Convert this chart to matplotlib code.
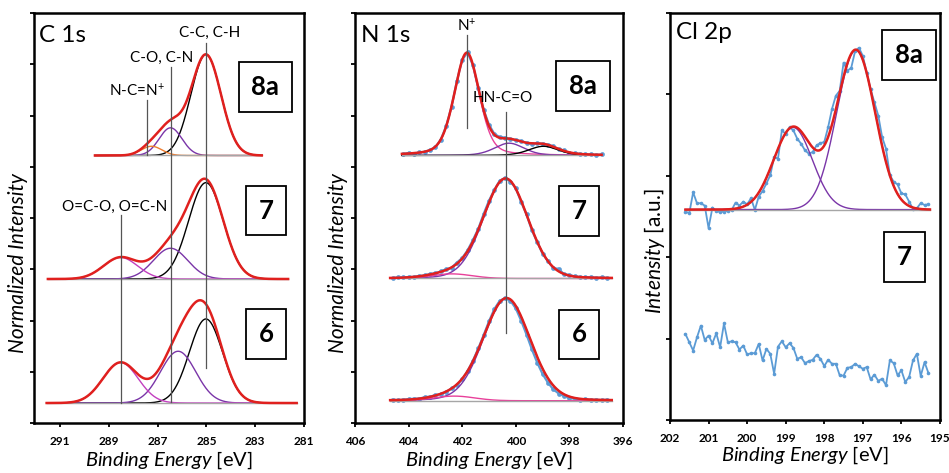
import matplotlib

matplotlib.use("Agg")
import matplotlib.pyplot as plt
import numpy as np

plt.rcParams["font.family"] = ["Lato", "DejaVu Sans"]
plt.rcParams["mathtext.fontset"] = "custom"
plt.rcParams["mathtext.rm"] = "Lato"
plt.rcParams["mathtext.it"] = "Lato:italic"
plt.rcParams["mathtext.bf"] = "Lato:bold"

RED = "#e0201e"
BLUE = "#5b9bd5"
PURPLE = "#7a35a8"
MAGENTA = "#c23fbf"
PINK = "#e8409a"
ORANGE = "#ed7d31"
GRAY = "#a6a6a6"

# --- C 1s: peak fits, (centre eV, height, FWHM) ---
C1S_SAMPLES = ["8a", "7", "6"]
C1S_BASE = [5.22, 2.81, 0.39]
C1S_SPAN = [(289.57, 282.73), (291.5, 281.65), (291.55, 281.3)]
C1S_CC = [(285.02, 1.97, 1.45), (285.02, 1.88, 1.67), (285.02, 1.64, 1.6)]
C1S_CO = [(286.47, 0.54, 1.1), (286.47, 0.60, 1.65), (286.16, 1.01, 1.7)]
C1S_OCO = [None, (288.52, 0.42, 1.65), (288.52, 0.79, 1.7)]
C1S_NCN = [(287.25, 0.18, 1.0), None, None]

# --- N 1s: (centre eV, height, FWHM, lorentz fraction) ---
N1S_BASE = [5.22, 2.82, 0.435]
N1S_SPAN = [(404.25, 396.8), (404.69, 396.42), (404.69, 396.42)]
N1S_8A_NPLUS = (401.83, 1.99, 1.1, 0.3)
N1S_8A_AMIDE = (400.25, 0.24, 1.3, 0.3)
N1S_8A_LOW = (398.97, 0.18, 1.3, 0.3)
N1S_7_MAIN = (400.38, 1.95, 1.95, 0.1)
N1S_7_HIGH = (402.4, 0.09, 1.8, 0.0)
N1S_6_MAIN = (400.34, 2.0, 2.05, 0.1)
N1S_6_HIGH = (402.3, 0.09, 1.8, 0.0)

# measured points (height above each baseline), 0.2 eV steps
N1S_8A_START = 404.2
N1S_8A_Y = [0.03, 0.05, 0.03, 0.06, 0.07, 0.11, 0.16, 0.31, 0.57, 0.95,
            1.45, 1.87, 2.01, 1.76, 1.31, 0.89, 0.60, 0.42, 0.36, 0.35,
            0.32, 0.30, 0.28, 0.25, 0.22, 0.24, 0.23, 0.21, 0.18, 0.12,
            0.10, 0.05, 0.04, 0.03, 0.02, 0.02, 0.01, 0.02]
N1S_7_START = 404.6
N1S_7_Y = [0.01, 0.02, 0.02, 0.03, 0.03, 0.05, 0.06, 0.09, 0.10, 0.14,
           0.18, 0.21, 0.31, 0.40, 0.55, 0.75, 0.97, 1.26, 1.52, 1.73,
           1.91, 1.96, 1.89, 1.76, 1.49, 1.25, 0.94, 0.71, 0.48, 0.34,
           0.20, 0.19, 0.08, 0.07, 0.04, 0.03, 0.02, 0.03, 0.01, 0.02, 0.01]
N1S_6_START = 404.6
N1S_6_Y = [0.02, 0.01, 0.02, 0.03, 0.04, 0.04, 0.07, 0.08, 0.11, 0.13,
           0.17, 0.24, 0.30, 0.42, 0.58, 0.78, 1.02, 1.28, 1.55, 1.79,
           1.95, 2.00, 1.95, 1.80, 1.56, 1.29, 1.00, 0.74, 0.52, 0.35,
           0.22, 0.14, 0.09, 0.05, 0.04, 0.02, 0.03, 0.01, 0.02, 0.01, 0.02]

# --- Cl 2p ---
CL_BASE = 2.585
CL_SPAN = (201.6, 195.26)
CL_P32 = (197.18, 1.96, 1.18)
CL_P12 = (198.81, 1.01, 1.18)
CL_START = 201.6  # 0.1 eV steps
CL_8A_Y = [2.561, 2.541, 2.797, 2.663, 2.663, 2.634, 2.358, 2.610, 2.569, 2.553,
           2.561, 2.569, 2.581, 2.671, 2.634, 2.683, 2.650, 2.724, 2.581, 2.744,
           2.813, 2.906, 3.008, 3.232, 3.211, 3.557, 3.516, 3.598, 3.557, 3.455,
           3.394, 3.313, 3.272, 3.293, 3.374, 3.402, 3.415, 3.598, 3.821, 3.984,
           4.045, 4.390, 4.289, 4.329, 4.533, 4.573, 4.472, 4.268, 4.065, 3.902,
           3.740, 3.476, 3.333, 3.008, 2.927, 2.894, 2.784, 2.772, 2.683, 2.594,
           2.602, 2.663, 2.642, 2.650]
CL_7_Y = [1.057, 0.955, 0.854, 1.016, 1.159, 0.984, 1.037, 0.943, 1.065, 0.894,
          1.187, 0.955, 0.967, 0.955, 0.866, 0.915, 0.805, 0.821, 0.821, 0.935,
          0.732, 0.874, 0.813, 0.569, 0.902, 0.967, 0.894, 0.943, 0.886, 0.752,
          0.772, 0.699, 0.724, 0.740, 0.801, 0.752, 0.663, 0.740, 0.691, 0.691,
          0.549, 0.545, 0.642, 0.650, 0.691, 0.659, 0.630, 0.650, 0.500, 0.557,
          0.480, 0.508, 0.427, 0.732, 0.699, 0.549, 0.610, 0.467, 0.528, 0.732,
          0.813, 0.541, 0.711, 0.577]


def peak(x, p):
    """Gauss/Lorentz mix, p = (centre, height, fwhm[, lorentz fraction])."""
    c, h, w = p[:3]
    m = p[3] if len(p) > 3 else 0.0
    u = (x - c) / w
    return h * (m / (1 + 4 * u**2) + (1 - m) * np.exp(-4 * np.log(2) * u**2))


def grid(span):
    return np.linspace(span[0], span[1], 400)


def energies(start, n, step):
    return np.round(start - step * np.arange(n), 2)


def style_axes(ax, xlim, xticks, ylim):
    ax.set_xlim(*xlim)
    ax.set_ylim(*ylim)
    ax.set_xticks(xticks)
    ax.set_yticks(np.arange(ylim[0], ylim[1] + 1))
    ax.set_yticklabels([])
    ax.tick_params(direction="out", length=3, width=1.3, labelsize=8.5, pad=6)
    for lbl in ax.get_xticklabels():
        lbl.set_fontweight("bold")
    for s in ax.spines.values():
        s.set_linewidth(1.8)


def box_label(ax, x, y, s):
    ax.text(x, y, s, transform=ax.transAxes, ha="center", va="center",
            fontsize=18.5, fontweight="bold",
            bbox=dict(boxstyle="square,pad=0.5", fc="white", ec="black", lw=1.3))


fig = plt.figure(figsize=(9.49, 4.73), dpi=100)
ax1 = fig.add_axes([0.0358, 0.1057, 0.2845, 0.8668])
ax2 = fig.add_axes([0.3741, 0.1057, 0.2824, 0.8668])
ax3 = fig.add_axes([0.7060, 0.1120, 0.2845, 0.8605])

# ---------------- C 1s ----------------
for i in range(3):
    x = grid(C1S_SPAN[i])
    b = C1S_BASE[i]
    comps = [(C1S_CC[i], "black"), (C1S_CO[i], PURPLE),
             (C1S_OCO[i], MAGENTA), (C1S_NCN[i], ORANGE)]
    total = np.zeros_like(x)
    for p, col in comps:
        if p is None:
            continue
        y = peak(x, p)
        total += y
        ax1.plot(x, b + y, color=col, lw=1)
    ax1.plot(x, np.full_like(x, b), color=GRAY, lw=1)
    ax1.plot(x, b + total, color=RED, lw=1.8)

for xv, y0, y1 in [(287.44, 5.22, 6.30), (286.46, 0.41, 6.95),
                   (285.02, 1.07, 7.41), (288.50, 0.39, 4.06)]:
    ax1.plot([xv, xv], [y0, y1], color="#555555", lw=0.9)
ax1.text(284.86, 7.61, "C-C, C-H", ha="center", va="center", fontsize=11)
ax1.text(286.82, 7.12, "C-O, C-N", ha="center", va="center", fontsize=11)
ax1.text(287.85, 6.48, "N-C=N$^{+}$", ha="center", va="center", fontsize=11)
ax1.text(288.75, 4.21, "O=C-O, O=C-N", ha="center", va="center", fontsize=11)
ax1.text(0.02, 0.944, "C 1s", transform=ax1.transAxes, ha="left", va="center",
         fontsize=17.5)
box_label(ax1, 0.857, 0.820, "8a")
box_label(ax1, 0.859, 0.518, "7")
box_label(ax1, 0.859, 0.217, "6")
style_axes(ax1, (292.07, 281), [291, 289, 287, 285, 283, 281], (0, 8))

# ---------------- N 1s ----------------
n1s_fits = [
    [(N1S_8A_NPLUS, PINK), (N1S_8A_AMIDE, PURPLE), (N1S_8A_LOW, "black")],
    [(N1S_7_MAIN, PURPLE), (N1S_7_HIGH, PINK)],
    [(N1S_6_MAIN, PURPLE), (N1S_6_HIGH, PINK)],
]
n1s_points = [(N1S_8A_START, N1S_8A_Y), (N1S_7_START, N1S_7_Y),
              (N1S_6_START, N1S_6_Y)]
for i in range(3):
    x = grid(N1S_SPAN[i])
    b = N1S_BASE[i]
    start, ys = n1s_points[i]
    ax2.plot(energies(start, len(ys), 0.2), b + np.array(ys), "-o", color=BLUE,
             lw=1.6, ms=3.4, mew=0)
    total = np.zeros_like(x)
    for p, col in n1s_fits[i]:
        y = peak(x, p)
        total += y
        ax2.plot(x, b + y, color=col, lw=1)
    ax2.plot(x, np.full_like(x, b), color=GRAY, lw=1)
    ax2.plot(x, b + total, color=RED, lw=1.8)

ax2.plot([401.83, 401.83], [5.75, 7.57], color="#555555", lw=0.9)
ax2.plot([400.37, 400.37], [1.75, 6.07], color="#555555", lw=0.9)
ax2.text(401.83, 7.76, "N$^{+}$", ha="center", va="center", fontsize=11)
ax2.text(400.5, 6.34, "HN-C=O", ha="center", va="center", fontsize=11)
ax2.text(0.022, 0.944, "N 1s", transform=ax2.transAxes, ha="left", va="center",
         fontsize=17.5)
box_label(ax2, 0.851, 0.822, "8a")
box_label(ax2, 0.836, 0.517, "7")
box_label(ax2, 0.836, 0.216, "6")
style_axes(ax2, (406, 396), [406, 404, 402, 400, 398, 396], (0, 8))

# ---------------- Cl 2p ----------------
x = grid(CL_SPAN)
ax3.plot(energies(CL_START, len(CL_8A_Y), 0.1), CL_8A_Y, "-o", color=BLUE,
         lw=1.3, ms=2.6, mew=0)
total = np.zeros_like(x)
for p in (CL_P32, CL_P12):
    y = peak(x, p)
    total += y
    ax3.plot(x, CL_BASE + y, color=PURPLE, lw=1)
ax3.plot(x, np.full_like(x, CL_BASE), color=GRAY, lw=1)
ax3.plot(x, CL_BASE + total, color=RED, lw=1.8)
ax3.plot(energies(CL_START, len(CL_7_Y), 0.1), CL_7_Y, "-o", color=BLUE,
         lw=1.3, ms=2.6, mew=0)
ax3.text(0.022, 0.951, "Cl 2p", transform=ax3.transAxes, ha="left", va="center",
         fontsize=17.5)
box_label(ax3, 0.885, 0.897, "8a")
box_label(ax3, 0.869, 0.400, "7")
style_axes(ax3, (202, 195), [202, 201, 200, 199, 198, 197, 196, 195], (0, 5))

# axis titles
xlab = r"$\mathit{Binding\ Energy}$ [eV]"
for ax, yy in ((ax1, -0.092), (ax2, -0.092), (ax3, -0.086)):
    ax.text(0.5, yy, xlab, transform=ax.transAxes, ha="center", va="center",
            fontsize=14.5)
ax1.text(-0.06, 0.39, "Normalized Intensity", transform=ax1.transAxes,
         rotation=90, ha="center", va="center", fontsize=15, style="italic")
ax2.text(-0.064, 0.39, "Normalized Intensity", transform=ax2.transAxes,
         rotation=90, ha="center", va="center", fontsize=15, style="italic")
ax3.text(-0.056, 0.414, r"$\mathit{Intensity}$ [a.u.]", transform=ax3.transAxes,
         rotation=90, ha="center", va="center", fontsize=15)

fig.savefig("out.png", dpi=100)
